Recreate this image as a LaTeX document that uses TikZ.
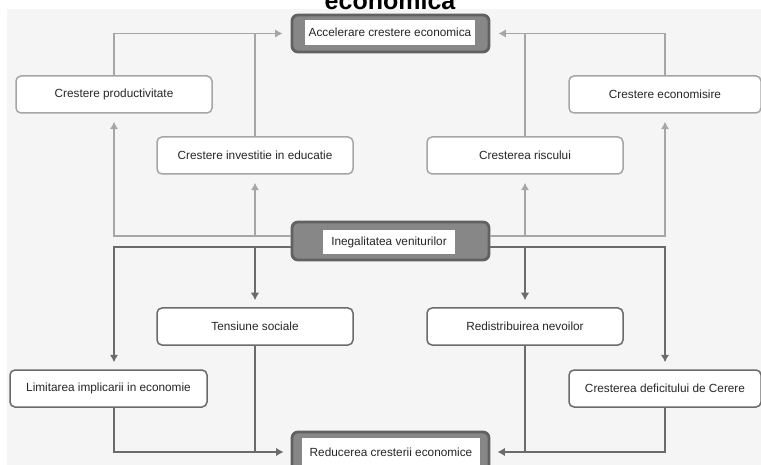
\documentclass[tikz,border=0pt]{standalone}
\usepackage{fontspec}
\setmainfont{Liberation Sans}
\usepackage{tikz}
\usetikzlibrary{arrows.meta}

\begin{document}
\begin{tikzpicture}[x=1pt, y=-1pt, font=\fontsize{11.8}{13}\selectfont,
    every node/.style={text=black!85, inner sep=0pt},
    box/.style={draw, rounded corners=5pt, fill=white, line width=1.5pt, minimum height=37pt},
    upbox/.style={box, draw=black!35},
    downbox/.style={box, draw=black!58},
    hub/.style={draw=black!62, fill=black!47, rounded corners=6pt, line width=2.8pt, minimum width=197pt},
    hubtext/.style={fill=white},
    growline/.style={->, draw=black!35, line width=1.8pt, shorten >=8pt},
    dropline/.style={->, draw=black!58, line width=1.8pt, shorten >=7pt},
    >={Latex[length=7.5pt, width=8.5pt]}]
    \useasboundingbox (0, 0) rectangle (761, 465);
    \fill[white] (0, 0) rectangle (761, 465);
    \fill[black!4] (7, 9) rectangle (761, 465);

    % Title, cut off at the page top
    \node[anchor=base, text=black, font=\fontsize{25}{30}\selectfont\bfseries] (title) at (390, 9.5) {economica};

    % Hubs
    \node[hub, minimum height=37pt] (acc) at (390.5, 33.5) {};
    \node[hubtext, minimum width=170pt, minimum height=25pt] (acctext) at (390, 32.5) {Accelerare crestere economica};
    \node[hub, minimum height=38pt] (ineg) at (390.5, 241) {};
    \node[hubtext, minimum width=132pt, minimum height=24pt] (inegtext) at (389, 242) {Inegalitatea veniturilor};
    \node[hub, minimum height=40pt] (red) at (390.5, 452) {};
    \node[hubtext, minimum width=178pt, minimum height=28pt] (redtext) at (391, 452) {Reducerea cresterii economice};

    % Upper effects
    \node[upbox, minimum width=196pt] (prod) at (114, 94.5) {Crestere productivitate};
    \node[upbox, minimum width=192pt] (econ) at (665, 94.5) {Crestere economisire};
    \node[upbox, minimum width=196pt] (inv) at (255, 155.5) {Crestere investitie in educatie};
    \node[upbox, minimum width=196pt] (risc) at (525, 155.5) {Cresterea riscului};

    % Lower effects
    \node[downbox, minimum width=196pt] (tens) at (255, 326.5) {Tensiune sociale};
    \node[downbox, minimum width=196pt] (redis) at (525, 326.5) {Redistribuirea nevoilor};
    \node[downbox, minimum width=197pt] (lim) at (108.5, 388.5) {Limitarea implicarii in economie};
    \node[downbox, minimum width=192pt] (def) at (665, 388.5) {Cresterea deficitului de Cerere};

    % Exits of the central hub
    \coordinate (upl) at ([yshift=5pt]ineg.west);
    \coordinate (upr) at ([yshift=5pt]ineg.east);
    \coordinate (downl) at ([yshift=-6pt]ineg.west);
    \coordinate (downr) at ([yshift=-6pt]ineg.east);

    % Towards faster growth
    \draw[growline] (upl) -| (prod.south);
    \draw[growline] (upl -| inv.south) -- (inv.south);
    \draw[growline] (upr) -| (econ.south);
    \draw[growline] (upr -| risc.south) -- (risc.south);
    \draw[growline] (prod.north) |- (acc.west);
    \draw[growline, -, shorten >=0pt] (inv.north) -- (inv.north |- acc.west);
    \draw[growline] (econ.north) |- (acc.east);
    \draw[growline, -, shorten >=0pt] (risc.north) -- (risc.north |- acc.east);

    % Towards slower growth
    \draw[dropline] (downl) -| (prod.south |- lim.north);
    \draw[dropline] (downl -| tens.north) -- (tens.north);
    \draw[dropline] (downr) -| (def.north);
    \draw[dropline] (downr -| redis.north) -- (redis.north);
    \draw[dropline] (prod.south |- lim.south) |- (red.west);
    \draw[dropline, -, shorten >=0pt] (tens.south) -- (tens.south |- red.west);
    \draw[dropline] (def.south) |- (red.east);
    \draw[dropline, -, shorten >=0pt] (redis.south) -- (redis.south |- red.east);
\end{tikzpicture}
\end{document}
